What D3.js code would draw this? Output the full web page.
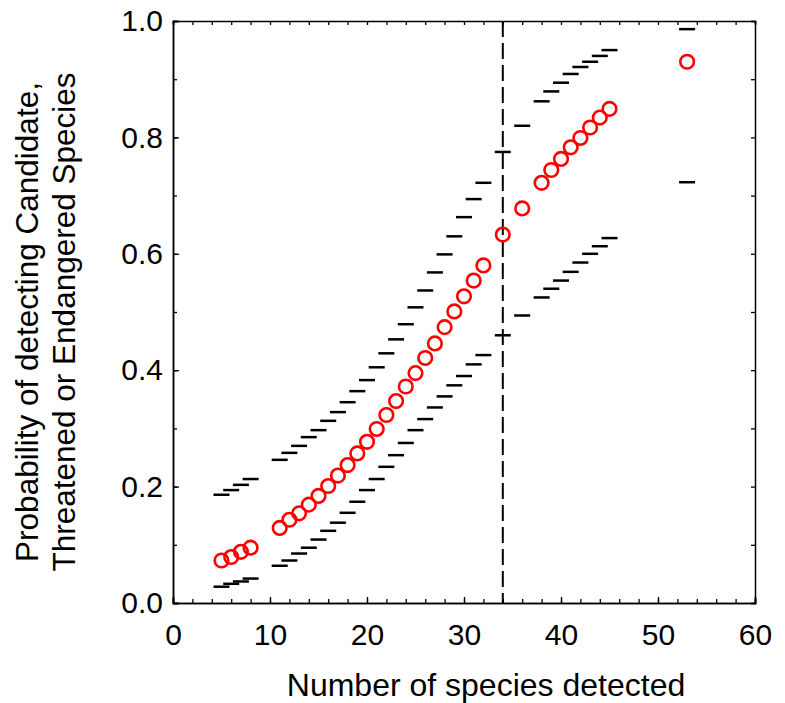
<!DOCTYPE html>
<html>
<head>
<meta charset="utf-8">
<script src="https://cdn.jsdelivr.net/npm/d3@7"></script>
<style>
  body { margin: 0; background: #fff; }
  text { font-family: Arial, "Liberation Sans", sans-serif; fill: #000; }
</style>
</head>
<body>
<svg id="chart" width="785" height="703"></svg>
<script>
// number of species detected
const species = [5, 6, 7, 8, 11, 12, 13, 14, 15, 16, 17, 18, 19, 20, 21, 22, 23, 24, 25,
  26, 27, 28, 29, 30, 31, 32, 34, 36, 38, 39, 40, 41, 42, 43, 44, 45, 53]
// estimated probability (red circles)
const prob = [0.073, 0.079, 0.088, 0.095, 0.129, 0.143, 0.154, 0.169, 0.184, 0.201, 0.219,
  0.237, 0.257, 0.277, 0.299, 0.323, 0.347, 0.372, 0.395, 0.421, 0.446, 0.474, 0.501, 0.527,
  0.554, 0.580, 0.633, 0.678, 0.722, 0.744, 0.763, 0.783, 0.799, 0.817, 0.834, 0.849, 0.930]
// lower and upper bounds (black dashes)
const lower = [0.028, 0.033, 0.037, 0.042, 0.064, 0.073, 0.085, 0.095, 0.109, 0.124, 0.138,
  0.155, 0.174, 0.194, 0.213, 0.234, 0.254, 0.275, 0.297, 0.316, 0.336, 0.355, 0.374, 0.390,
  0.410, 0.426, 0.460, 0.494, 0.525, 0.540, 0.554, 0.569, 0.585, 0.600, 0.613, 0.627, 0.723]
const upper = [0.186, 0.194, 0.203, 0.213, 0.246, 0.258, 0.270, 0.285, 0.297, 0.313, 0.328,
  0.345, 0.364, 0.383, 0.405, 0.429, 0.453, 0.479, 0.508, 0.537, 0.568, 0.599, 0.630, 0.663,
  0.694, 0.722, 0.775, 0.820, 0.862, 0.879, 0.894, 0.909, 0.921, 0.930, 0.940, 0.950, 0.986]
const threshold = 34

const xTicks = [0, 10, 20, 30, 40, 50, 60]
const yTicks = [0, 0.2, 0.4, 0.6, 0.8, 1.0]
const xTitle = 'Number of species detected'
const yTitle = ['Probability of detecting Candidate,', 'Threatened or Endangered Species']

const svg = d3.select('#chart')
const plotLeft = 173, plotRight = 755, plotTop = 21, plotBottom = 603

const x = d3.scaleLinear().domain([0, 60]).range([plotLeft, plotRight])
const y = d3.scaleLinear().domain([0, 1]).range([plotBottom, plotTop])

// box axes, ticks pointing inward on all four sides
const minorX = d3.range(0, 61, 2)
const minorY = d3.range(0, 1.001, 0.1)

svg.append('g')
  .attr('transform', `translate(0, ${plotBottom})`)
  .call(d3.axisBottom(x).tickValues(minorX).tickSize(-4).tickFormat(''))
svg.append('g')
  .attr('transform', `translate(0, ${plotBottom})`)
  .call(d3.axisBottom(x).tickValues(xTicks).tickSize(-6).tickPadding(21).tickFormat(d3.format('d')))
  .call(g => g.selectAll('text').attr('font-size', 30).attr('dy', '0.71em'))
svg.append('g')
  .attr('transform', `translate(0, ${plotTop})`)
  .call(d3.axisTop(x).tickValues(minorX).tickSize(-4).tickFormat(''))
svg.append('g')
  .attr('transform', `translate(${plotLeft}, 0)`)
  .call(d3.axisLeft(y).tickValues(minorY).tickSize(-4).tickFormat(''))
svg.append('g')
  .attr('transform', `translate(${plotLeft}, 0)`)
  .call(d3.axisLeft(y).tickValues(yTicks).tickSize(-6).tickPadding(10).tickFormat(d3.format('.1f')))
  .call(g => g.selectAll('text').attr('font-size', 30))
svg.append('g')
  .attr('transform', `translate(${plotRight}, 0)`)
  .call(d3.axisRight(y).tickValues(minorY).tickSize(-4).tickFormat(''))

svg.selectAll('.domain').attr('stroke-width', 1.5)
svg.selectAll('.tick line').attr('stroke-width', 1.3)
svg.selectAll('.tick text').attr('font-family', 'Arial, "Liberation Sans", sans-serif')

// threshold line
svg.append('line')
  .attr('x1', x(threshold)).attr('x2', x(threshold))
  .attr('y1', y(1)).attr('y2', y(0))
  .attr('stroke', '#000')
  .attr('stroke-width', 2)
  .attr('stroke-dasharray', '16,6')

// bounds
const bounds = species.flatMap((s, i) => [{x: s, y: lower[i]}, {x: s, y: upper[i]}])
svg.append('g')
  .selectAll('line')
  .data(bounds)
  .join('line')
    .attr('x1', d => x(d.x) - 8)
    .attr('x2', d => x(d.x) + 8)
    .attr('y1', d => y(d.y))
    .attr('y2', d => y(d.y))
    .attr('stroke', '#000')
    .attr('stroke-width', 2.5)

// probability circles
svg.append('g')
  .selectAll('circle')
  .data(species.map((s, i) => ({x: s, y: prob[i]})))
  .join('circle')
    .attr('cx', d => x(d.x))
    .attr('cy', d => y(d.y))
    .attr('r', 6.8)
    .attr('fill', 'none')
    .attr('stroke', '#ff0000')
    .attr('stroke-width', 2.6)

// titles
svg.append('text')
  .attr('x', 486)
  .attr('y', 696)
  .attr('text-anchor', 'middle')
  .attr('font-size', 32)
  .text(xTitle)

svg.append('g')
  .attr('transform', 'translate(0, 322) rotate(-90)')
  .selectAll('text')
  .data(yTitle)
  .join('text')
    .attr('x', 0)
    .attr('y', (d, i) => 38 + i * 37)
    .attr('text-anchor', 'middle')
    .attr('font-size', 31.5)
    .text(d => d)
</script>
</body>
</html>
